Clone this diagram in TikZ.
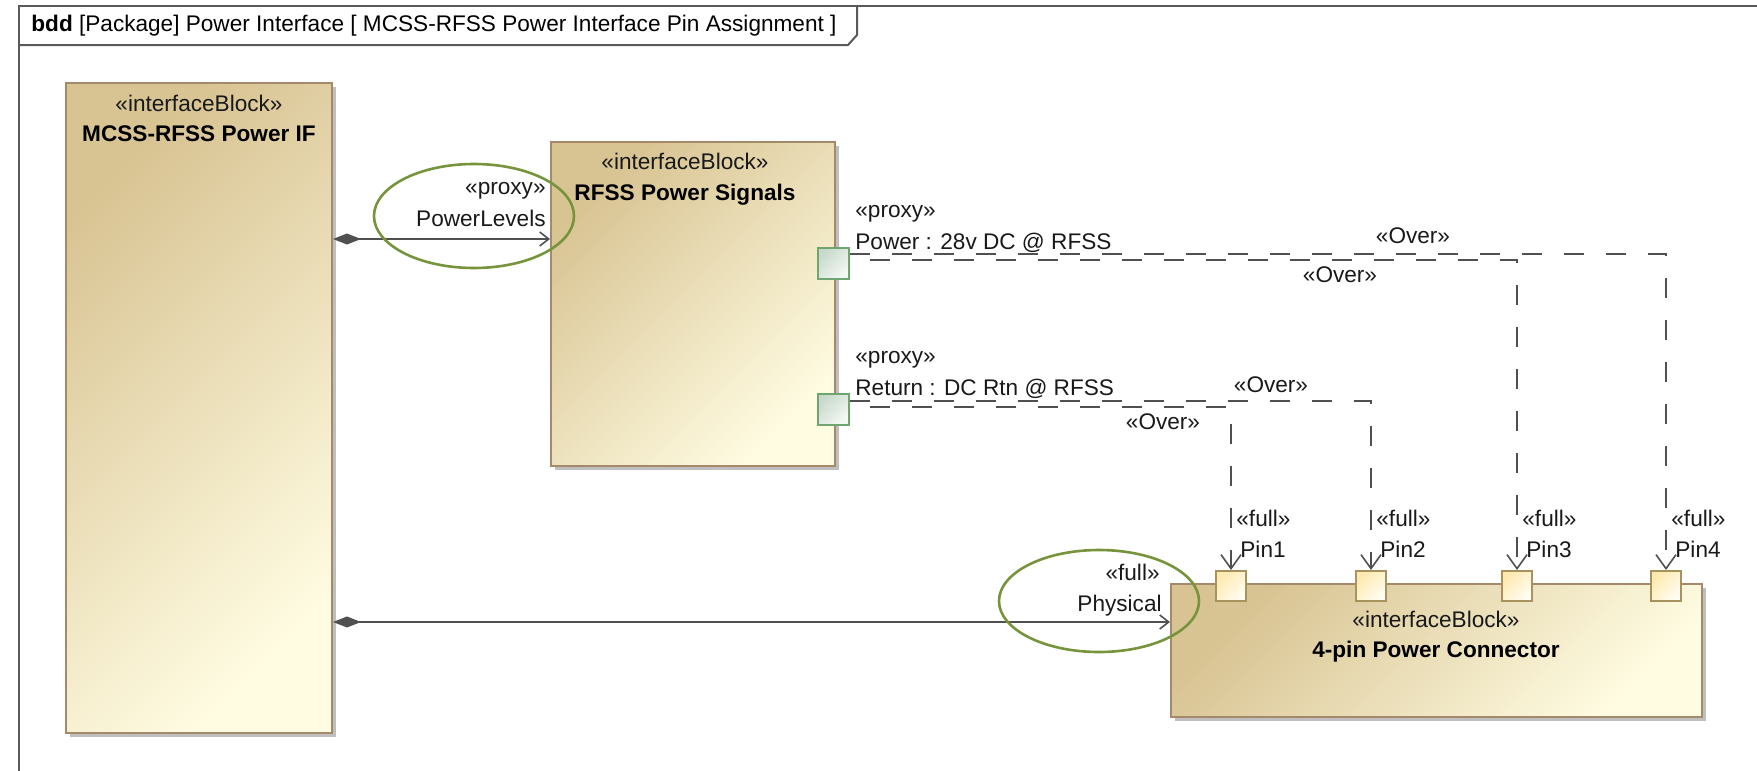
\documentclass[tikz,border=0pt]{standalone}
\usepackage{fontspec}
\setmainfont{Liberation Sans}
\usetikzlibrary{arrows.meta, positioning, shapes.geometric, shadows}

\definecolor{blockdark}{HTML}{D8C392}
\definecolor{blocklight}{HTML}{FFFCE2}
\definecolor{blockedge}{HTML}{A48A6A}
\definecolor{portedge}{HTML}{6FA571}
\definecolor{portdark}{HTML}{C6D9CA}
\definecolor{portlight}{HTML}{F4F8F4}
\definecolor{pinedge}{HTML}{A8925E}
\definecolor{pindark}{HTML}{FFE9AE}
\definecolor{pinlight}{HTML}{FFFDF2}
\definecolor{ringcol}{HTML}{77933C}
\definecolor{wire}{HTML}{505050}
\definecolor{framecol}{HTML}{5A5A5A}

\begin{document}
\begin{tikzpicture}[
    x=0.5pt, y=-0.5pt,
    font=\fontsize{11.3}{13.6}\selectfont,
    block/.style={draw=blockedge, line width=1pt, top color=blockdark, bottom color=blocklight, shading angle=45,
        drop shadow={shadow xshift=2.2pt, shadow yshift=-2.2pt, fill=black!25, opacity=1}},
    proxyport/.style={draw=portedge, line width=1pt, top color=portdark, bottom color=portlight, shading angle=45, minimum size=15.5pt, inner sep=0pt},
    fullport/.style={draw=pinedge, line width=1pt, top color=pindark, bottom color=pinlight, shading angle=45, minimum size=15pt, inner sep=0pt},
    stereotxt/.style={inner sep=0pt, text=black!90},
    nametxt/.style={inner sep=0pt, font=\fontsize{11.3}{13.6}\selectfont\bfseries},
    frame/.style={draw=framecol, line width=1pt},
    compo/.style={draw=wire, line width=0.8pt, {Diamond[length=14pt, width=5.5pt]}-{Straight Barb[length=4.5pt, width=7pt]}},
    overwire/.style={draw=wire, line width=0.8pt, dash pattern=on 10pt off 11pt, -{Straight Barb[length=7pt, width=10pt]}},
    ring/.style={ellipse, draw=ringcol, line width=1.3pt, inner sep=0pt}
]
\useasboundingbox (0,0) rectangle (1757,771);

% diagram frame and its tab
\draw[frame] (19,771) |- (1757,5.6);
\draw[frame] (19,45) -- (848,45) -- (857,35) -- (857,5.6);
\node[anchor=base west, inner sep=0pt] (title) at (31,32)
    {\textbf{bdd} [Package] Power Interface [ MCSS-RFSS Power Interface Pin Assignment ]};

% blocks
\node[block, minimum width=133pt, minimum height=325pt] (pwrif) at (199,408) {};
\node[block, minimum width=142pt, minimum height=162pt] (sig) at (693,304) {};
\node[block, minimum width=265.5pt, minimum height=66.5pt] (conn) at (1436.5,650.5) {};

\node[stereotxt, anchor=base] (pwrif-st) at (199,111) {«interfaceBlock»};
\node[nametxt, anchor=base] (pwrif-nm) at (199,141) {MCSS-RFSS Power IF};
\node[stereotxt, anchor=base] (sig-st) at (685,169) {«interfaceBlock»};
\node[nametxt, anchor=base] (sig-nm) at (685,200) {RFSS Power Signals};
\node[stereotxt, anchor=base] (conn-st) at (1436,627) {«interfaceBlock»};
\node[nametxt, anchor=base] (conn-nm) at (1436,657) {4-pin Power Connector};

% proxy ports on the signal block
\node[proxyport] (pwr) at (833,263.5) {};
\node[proxyport] (rtn) at (833,409) {};
\node[stereotxt, anchor=base west] (pwr-st) at (855,217) {«proxy»};
\node[stereotxt, anchor=base west] (pwr-nm) at (855,249) {Power : 28v DC @ RFSS};
\node[stereotxt, anchor=base west] (rtn-st) at (855,363) {«proxy»};
\node[stereotxt, anchor=base west] (rtn-nm) at (855,395) {Return : DC Rtn @ RFSS};

% connector pins
\foreach \i/\x in {1/1231, 2/1371, 3/1517, 4/1666} {
    \node[fullport] (pin\i) at (\x,586) {};
    \node[stereotxt, anchor=base west] (pin\i-st) at ([shift={(5,-43.5)}]pin\i.north) {«full»};
    \node[stereotxt, anchor=base west] (pin\i-nm) at ([shift={(9,-12.5)}]pin\i.north) {Pin\i};
}

% part properties
\coordinate (plrow) at (0,239);
\coordinate (phrow) at (0,622);
\draw[compo] (pwrif.east |- plrow) -- (sig.west |- plrow);
\draw[compo] (pwrif.east |- phrow) -- (conn.west |- phrow);
\node[stereotxt, anchor=base east] (pl-st) at (546,194) {«proxy»};
\node[stereotxt, anchor=base east] (pl-nm) at (546,226) {PowerLevels};
\node[stereotxt, anchor=base east] (ph-st) at (1160,580) {«full»};
\node[stereotxt, anchor=base east] (ph-nm) at (1162,611) {Physical};

% allocations from proxy ports to pins
\draw[overwire] ([yshift=4.75pt]pwr.east) -| (pin4.north);
\draw[overwire, dash phase=11pt] ([yshift=1.75pt]pwr.east) -| (pin3.north);
\draw[overwire] ([yshift=4pt]rtn.east) -| (pin2.north);
\draw[overwire, dash phase=11pt] ([yshift=1pt]rtn.east) -| (pin1.north);
\node[stereotxt] (ov4) at (1413,236) {«Over»};
\node[stereotxt] (ov3) at (1340,275) {«Over»};
\node[stereotxt] (ov2) at (1271,385) {«Over»};
\node[stereotxt] (ov1) at (1163,422) {«Over»};

% highlight rings
\node[ring, minimum width=100pt, minimum height=52pt] (ringpl) at (474,216) {};
\node[ring, minimum width=100pt, minimum height=51pt] (ringph) at (1099,601) {};
\end{tikzpicture}
\end{document}
